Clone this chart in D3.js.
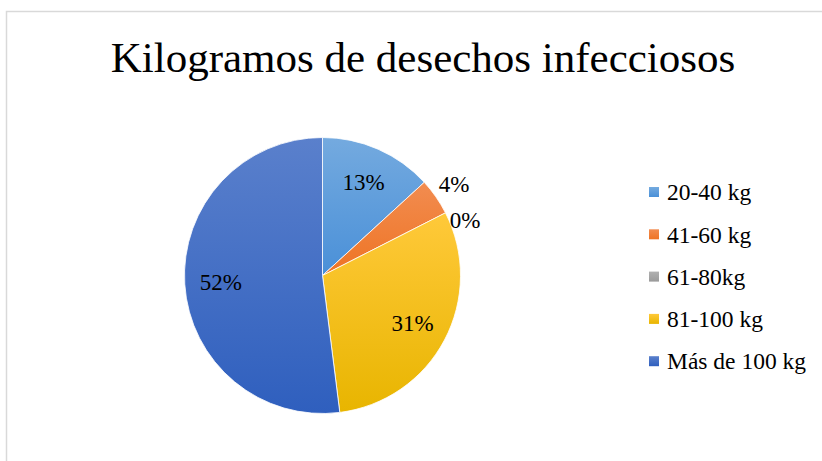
<!DOCTYPE html>
<html>
<head>
<meta charset="utf-8">
<script src="https://cdn.jsdelivr.net/npm/d3@7"></script>
<style>
  body { margin: 0; background: #fff; }
  svg { display: block; }
</style>
</head>
<body>
<div id="chart"></div>
<script>
// datos del grafico
var categorias = ["20-40 kg", "41-60 kg", "61-80kg", "81-100 kg", "Más de 100 kg"];
var porcentajes = [13.2, 4.3, 0, 30.5, 52.0];
var coloresArriba = ["#74aadf", "#f28c50", "#b0b0b0", "#ffc93a", "#5a80cc"];
var coloresAbajo = ["#4a90d8", "#ee7424", "#9a9a9a", "#e8b500", "#2f5fbe"];
var titulo = "Kilogramos de desechos infecciosos";

var width = 822, height = 461;
var cx = 322.5, cy = 275.5, radius = 138;
var fuente = "'Liberation Serif', 'Times New Roman', serif";

var svg = d3.select("#chart")
  .append("svg")
  .attr("width", width)
  .attr("height", height);

// borde del area del grafico
svg.append("rect")
  .attr("x", 6.5)
  .attr("y", 11.5)
  .attr("width", 840)
  .attr("height", 470)
  .attr("fill", "#fff")
  .attr("stroke", "#d9d9d9")
  .attr("stroke-width", 1.5);

svg.append("text")
  .attr("x", 423)
  .attr("y", 72)
  .attr("text-anchor", "middle")
  .attr("font-family", fuente)
  .attr("font-size", "43px")
  .attr("fill", "#000")
  .text(titulo);

// gradientes
var defs = svg.append("defs");
categorias.forEach(function(c, i) {
  var g = defs.append("linearGradient")
    .attr("id", "grad" + i)
    .attr("x1", 0).attr("y1", 0).attr("x2", 0).attr("y2", 1);
  g.append("stop").attr("offset", "0%").attr("stop-color", coloresArriba[i]);
  g.append("stop").attr("offset", "100%").attr("stop-color", coloresAbajo[i]);
});

var datos = categorias.map(function(c, i) { return { cat: c, valor: porcentajes[i], i: i }; });

var pie = d3.pie().sort(null).value(function(d) { return d.valor; });
var arcos = pie(datos);
var arc = d3.arc().innerRadius(0).outerRadius(radius);

var gPie = svg.append("g")
  .attr("transform", "translate(" + cx + "," + cy + ")");

gPie.selectAll("path")
  .data(arcos.filter(function(d) { return d.data.valor > 0; }))
  .enter()
  .append("path")
  .attr("d", arc)
  .attr("fill", function(d) { return "url(#grad" + d.data.i + ")"; })
  .attr("stroke", "#fff")
  .attr("stroke-width", 0.8);

// etiquetas: dentro si la porcion es grande, fuera si es chica
var total = d3.sum(porcentajes);
var ultimoY = -Infinity;
arcos.forEach(function(d) {
  var ang = (d.startAngle + d.endAngle) / 2;
  var dentro = d.data.valor / total >= 0.1;
  var r = dentro ? 102 : 160;
  var x = Math.sin(ang) * r;
  var y = -Math.cos(ang) * r;
  if (!dentro) {
    if (y < ultimoY + 36) y = ultimoY + 36;
    ultimoY = y;
  }
  gPie.append("text")
    .attr("x", x)
    .attr("y", y)
    .attr("dy", "0.35em")
    .attr("text-anchor", "middle")
    .attr("font-family", fuente)
    .attr("font-size", "23px")
    .attr("fill", "#000")
    .text(Math.round(d.data.valor / total * 100) + "%");
});

// leyenda
var leyenda = svg.append("g")
  .attr("transform", "translate(649,192)");

var filas = leyenda.selectAll("g")
  .data(datos)
  .enter()
  .append("g")
  .attr("transform", function(d, i) { return "translate(0," + (i * 42.3) + ")"; });

filas.append("rect")
  .attr("x", 0)
  .attr("y", -5)
  .attr("width", 10)
  .attr("height", 10)
  .attr("fill", function(d) { return "url(#grad" + d.i + ")"; });

filas.append("text")
  .attr("x", 18)
  .attr("y", 0)
  .attr("dy", "0.35em")
  .attr("font-family", fuente)
  .attr("font-size", "23.5px")
  .attr("fill", "#000")
  .text(function(d) { return d.cat; });
</script>
</body>
</html>
